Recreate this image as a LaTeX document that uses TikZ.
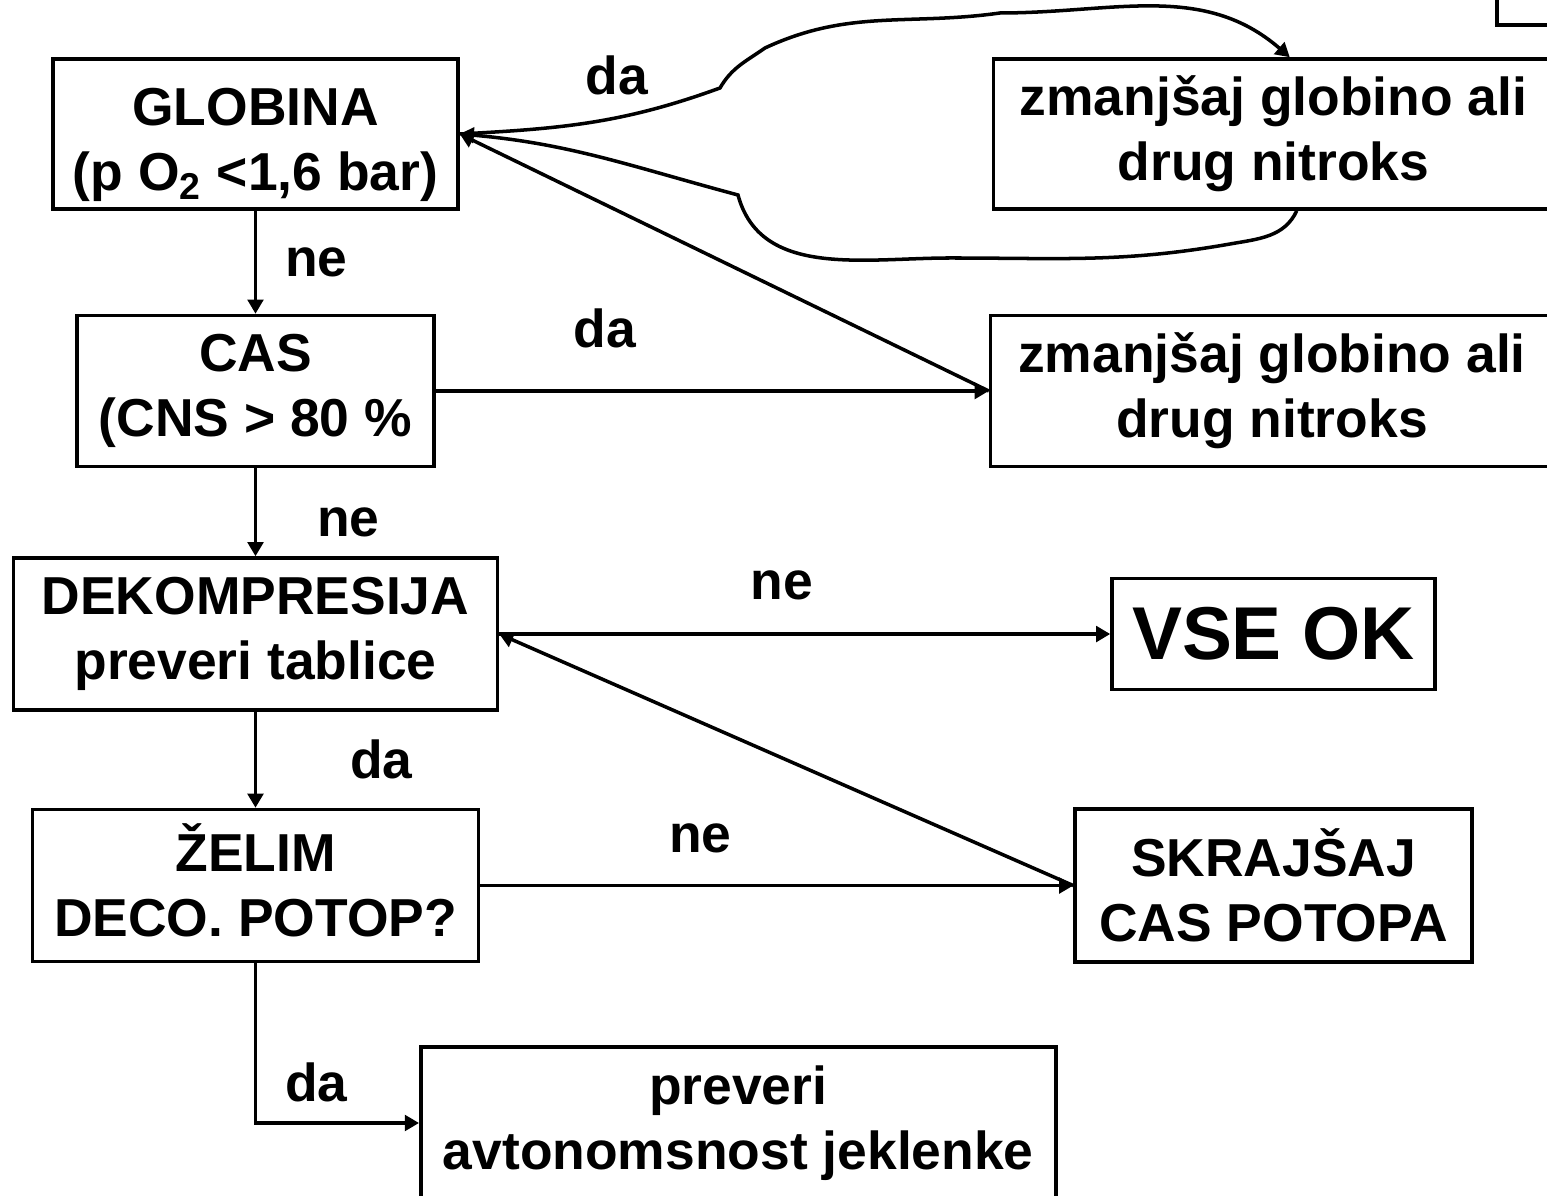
\documentclass[tikz,border=0pt]{standalone}
\usepackage{fontspec}
\setmainfont{Liberation Sans}
\usetikzlibrary{arrows.meta,positioning,calc}

\begin{document}
\begin{tikzpicture}[
  box/.style={draw, line width=1pt, align=center, inner sep=0pt, font=\bfseries\fontsize{15.2}{18.5}\selectfont},
  lbl/.style={inner sep=0pt, font=\bfseries\fontsize{15.2}{18.5}\selectfont},
  flow/.style={-{Triangle[length=4pt, width=4.4pt]}, line width=1pt},
  node distance=1cm]
\path[use as bounding box, clip] (0,0) rectangle (15.47,-11.96);

\node[box, minimum width=4.05cm, minimum height=1.50cm] (glob) at (2.555,-1.34) {\rule{0pt}{1.1em}GLOBINA\\(p O\textsubscript{2} <1,6 bar)};
\node[box, below=1.03cm of glob, minimum width=3.57cm, minimum height=1.51cm] (cas) {CAS\\(CNS > 80 \%};
\node[box, below=0.88cm of cas, minimum width=4.84cm, minimum height=1.52cm] (dek) {DEKOMPRESIJA\\preveri tablice};
\node[box, below=0.96cm of dek, minimum width=4.46cm, minimum height=1.52cm] (zel) {\smash{Ž}ELIM\\DECO. POTOP?};

\node[box, right=5.32cm of glob, minimum width=5.60cm, minimum height=1.50cm] (zm1) {zmanjšaj globino ali\\drug nitroks};
\node[box, right=5.53cm of cas, minimum width=5.63cm, minimum height=1.51cm] (zm2) {zmanjšaj globino ali\\drug nitroks};
\node[box, right=6.11cm of dek, minimum width=3.23cm, minimum height=1.11cm, font=\bfseries\fontsize{21.3}{25}\selectfont] (vse) {VSE OK};
\node[box, right=5.93cm of zel, minimum width=3.97cm, minimum height=1.53cm] (skr) {SKRAJŠAJ\\CAS POTOPA};
\node[box, anchor=west, minimum width=6.35cm, minimum height=1.52cm] (prov) at (4.19,-11.23) {preveri\\avtonomsnost jeklenke};
\node[box, anchor=south west, minimum width=1.0cm, minimum height=0.6cm] (extra) at (14.95,-0.27) {};

% main column
\draw[flow] (glob) -- node[lbl, right=0.28cm] {ne} (cas);
\draw[flow] (cas) -- node[lbl, right=0.60cm, yshift=-0.1cm] {ne} (dek);
\draw[flow] (dek) -- node[lbl, right=0.93cm] {da} (zel);
\draw[flow] (zel.south) |- node[lbl, pos=0.373, right=0.28cm] {da} (prov.west);

% side branches
\draw[flow] (cas.east) -- node[lbl, pos=0.306, above=0.41cm] {da} (zm2.west);
\draw[flow] (zm2.west) -- (glob.east);
\draw[flow] (dek.east) -- node[lbl, pos=0.463, above=0.32cm] {ne} (vse.west);
\draw[flow] (zel.east) -- node[lbl, pos=0.371, above=0.31cm] {ne} (skr.west);
\draw[flow] (skr.west) -- (dek.east);

% loop round the top box
\coordinate (t0) at (7.20,-0.88);
\coordinate (t1) at (7.65,-0.48);
\coordinate (t2) at (10.0,-0.13);
\coordinate (b0) at (12.30,-2.44);
\coordinate (b1) at (9.50,-2.58);
\coordinate (b2) at (7.38,-1.95);
\draw[flow] (glob.east) to[out=3, in=200] (t0) to[out=60, in=215] (t1) to[out=25, in=188] (t2) to[out=0, in=139] ([xshift=2.98cm]zm1.north west);
\draw[flow] ([xshift=3.05cm]zm1.south west) to[out=-115, in=10] (b0) to[out=190, in=0] (b1) to[out=180, in=-75] (b2) to[out=165, in=-5] (glob.east);
\node[lbl] (da1) at (6.17,-0.75) {da};
\end{tikzpicture}
\end{document}
